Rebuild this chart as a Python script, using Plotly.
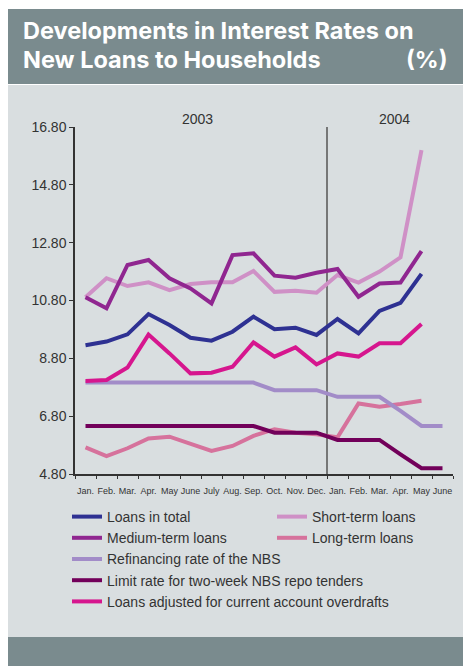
import plotly.graph_objects as go

# Month labels on the category axis (Jan 2003 – June 2004)
months = ["Jan.", "Feb.", "Mar.", "Apr.", "May", "June", "July", "Aug.", "Sep.",
          "Oct.", "Nov.", "Dec.", "Jan.", "Feb.", "Mar.", "Apr.", "May", "June"]
y_ticks = [4.8, 6.8, 8.8, 10.8, 12.8, 14.8, 16.8]

# Interest rates (%), one value per month
loans_total = [9.25, 9.38, 9.63, 10.33, 9.95, 9.51, 9.41, 9.72, 10.24, 9.81, 9.86, 9.61,
               10.16, 9.66, 10.44, 10.72, 11.72]
short_term = [10.91, 11.57, 11.30, 11.43, 11.16, 11.37, 11.43, 11.43, 11.82, 11.10, 11.14, 11.07,
              11.68, 11.42, 11.80, 12.29, 16.00]
medium_term = [10.91, 10.53, 12.03, 12.20, 11.57, 11.22, 10.70, 12.37, 12.43, 11.66, 11.59, 11.76,
               11.89, 10.93, 11.39, 11.42, 12.51]
long_term = [5.72, 5.42, 5.69, 6.03, 6.09, 5.86, 5.60, 5.77, 6.12, 6.35, 6.23, 6.17,
             6.07, 7.24, 7.13, 7.22, 7.33]
refinancing = [7.96, 7.96, 7.96, 7.96, 7.96, 7.96, 7.96, 7.96, 7.96, 7.70, 7.70, 7.70,
               7.47, 7.47, 7.47, 6.98, 6.46, 6.46]
limit_rate = [6.46, 6.46, 6.46, 6.46, 6.46, 6.46, 6.46, 6.46, 6.46, 6.23, 6.23, 6.23,
              5.98, 5.98, 5.98, 5.48, 5.00, 5.00]
loans_adjusted = [8.02, 8.05, 8.48, 9.62, 8.97, 8.28, 8.30, 8.51, 9.35, 8.86, 9.18, 8.59,
                  8.97, 8.86, 9.32, 9.32, 9.99]

series = [
    ("Loans in total", loans_total, "#2e3192", "legend"),
    ("Short-term loans", short_term, "#cf90c6", "legend2"),
    ("Medium-term loans", medium_term, "#902690", "legend"),
    ("Long-term loans", long_term, "#d6729c", "legend2"),
    ("Refinancing rate of the NBS", refinancing, "#a28cc8", "legend"),
    ("Limit rate for two-week NBS repo tenders", limit_rate, "#72005a", "legend"),
    ("Loans adjusted for current account overdrafts", loans_adjusted, "#d6168e", "legend"),
]

fig = go.Figure()
for name, vals, color, leg in series:
    fig.add_trace(go.Scatter(
        x=list(range(len(vals))), y=vals, mode="lines", name=name,
        line=dict(color=color, width=4), legend=leg,
    ))

W, H = 463, 666
L, R, T, B = 75, 10, 127, 192
pw, ph = W - L - R, H - T - B


def px(xp):
    return (xp - L) / pw


def py(yp):
    return (H - B - yp) / ph


HEAD = "#7a8b8e"
PANEL = "#d9dee0"
TXT = "#333333"

shapes = [
    dict(type="rect", xref="paper", yref="paper", x0=px(8), x1=px(W + 2), y0=py(84), y1=py(9),
         fillcolor=HEAD, line_width=0, layer="below"),
    dict(type="rect", xref="paper", yref="paper", x0=px(8), x1=px(W + 2), y0=py(637), y1=py(85),
         fillcolor=PANEL, line_width=0, layer="below"),
    dict(type="rect", xref="paper", yref="paper", x0=px(8), x1=px(W + 2), y0=py(H + 2), y1=py(637),
         fillcolor=HEAD, line_width=0, layer="below"),
    # year separator
    dict(type="line", xref="x", yref="y", x0=11.5, x1=11.5, y0=4.8, y1=16.8,
         line=dict(color="#555555", width=1.5), layer="below"),
]

title_font = dict(family="Inter, Liberation Sans, sans-serif", size=23.5, color="white")
annotations = [
    dict(text="<b>Developments in Interest Rates on</b>", xref="paper", yref="paper",
         x=px(21), y=py(30), xanchor="left", yanchor="middle", showarrow=False, font=title_font),
    dict(text="<b>New Loans to Households</b>", xref="paper", yref="paper",
         x=px(21), y=py(60), xanchor="left", yanchor="middle", showarrow=False, font=title_font),
    dict(text="<b>(%)</b>", xref="paper", yref="paper",
         x=px(450), y=py(60), xanchor="right", yanchor="middle", showarrow=False, font=title_font),
    dict(text="2003", xref="x", yref="paper", x=5.33, y=py(119), xanchor="center", yanchor="middle",
         showarrow=False, font=dict(family="Liberation Sans, Arial, sans-serif", size=14, color=TXT)),
    dict(text="2004", xref="x", yref="paper", x=14.72, y=py(119), xanchor="center", yanchor="middle",
         showarrow=False, font=dict(family="Liberation Sans, Arial, sans-serif", size=14, color=TXT)),
]

legend_font = dict(family="Liberation Sans, Arial, sans-serif", size=14, color=TXT)

fig.update_layout(
    width=W, height=H,
    margin=dict(l=L, r=R, t=T, b=B, pad=0),
    paper_bgcolor="white",
    plot_bgcolor="rgba(0,0,0,0)",
    shapes=shapes,
    annotations=annotations,
    xaxis=dict(
        range=[-0.5, 17.5], tickmode="array", tickvals=list(range(18)), ticktext=months,
        ticks="outside", ticklen=7, tickcolor="rgba(0,0,0,0)",
        showline=True, linecolor=TXT, linewidth=1.5, showgrid=False, zeroline=False,
        tickfont=dict(family="Liberation Sans Narrow, Liberation Sans, sans-serif", size=9, color=TXT),
        minor=dict(tickmode="linear", tick0=-0.5, dtick=1, ticks="outside", ticklen=3,
                   tickcolor=TXT, tickwidth=1, showgrid=False),
        fixedrange=True,
    ),
    yaxis=dict(
        range=[4.8, 16.8], tickmode="array", tickvals=y_ticks,
        ticktext=[f"{v:.2f}" for v in y_ticks],
        ticks="outside", ticklen=4, tickcolor=TXT, tickwidth=1,
        showline=True, linecolor=TXT, linewidth=1.5, showgrid=False, zeroline=False,
        tickfont=dict(family="Liberation Sans, Arial, sans-serif", size=14, color=TXT),
        fixedrange=True,
    ),
    legend=dict(x=px(67), y=py(501), xanchor="left", yanchor="top", bgcolor="rgba(0,0,0,0)",
                font=legend_font, tracegroupgap=0, itemwidth=30, orientation="v"),
    legend2=dict(x=px(272), y=py(501), xanchor="left", yanchor="top", bgcolor="rgba(0,0,0,0)",
                 font=legend_font, tracegroupgap=0, itemwidth=30, orientation="v"),
    showlegend=True,
)

fig.write_html("out.html")
